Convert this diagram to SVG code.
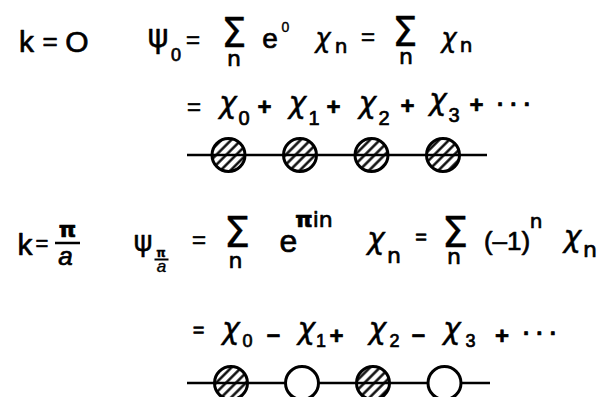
<svg xmlns="http://www.w3.org/2000/svg" width="600" height="397" viewBox="0 0 600 397">
<defs>
<pattern id="hatch" patternUnits="userSpaceOnUse" width="7" height="7" patternTransform="rotate(-45)">
<line x1="-1" y1="3.5" x2="8" y2="3.5" stroke="#000" stroke-width="2.4"/>
</pattern>
</defs>
<style>
text{font-family:"DejaVu Sans","Liberation Sans",sans-serif;fill:#000;text-anchor:middle;stroke:#000;stroke-width:0.7;stroke-linejoin:round}
.s{font-size:20px}
.c{font-size:30px;font-style:italic;stroke-width:0.4}
.op{font-size:24px;font-family:"Liberation Sans",sans-serif;font-weight:bold}
.ss{font-family:"Liberation Sans",sans-serif}
.it{font-style:italic}
.bd{font-weight:bold}
.sg{font-size:40px;stroke-width:0.3}
.hatched{fill:url(#hatch);stroke:#000;stroke-width:3}
.open{fill:#fff;stroke:#000;stroke-width:3}
.bar{stroke:#000;stroke-width:2.5}
.chain{stroke:#000;stroke-width:2.6;fill:none}
</style>
<rect width="600" height="397" fill="#fff"/>

<g id="eq-k0">
<text class="ss" x="26.5" y="52" style="font-size:30px">k</text>
<text class="ss" x="50" y="50" style="font-size:26px">=</text>
<text class="ss" x="77" y="52" style="font-size:30px">O</text>
<text x="158" y="47" style="font-size:32px;stroke-width:0.4">ψ</text>
<text class="ss" x="176" y="61" style="font-size:18px">0</text>
<text class="ss" x="193" y="48" style="font-size:24px">=</text>
<text class="sg" x="234" y="47">Σ</text>
<text x="234" y="66" style="font-size:22px">n</text>
<text class="ss" x="270" y="48" style="font-size:28px">e</text>
<text class="ss" x="285.5" y="32" style="font-size:14px;stroke-width:0.4">0</text>
<text x="323" y="47" class="c" style="font-size:26px">χ</text>
<text x="341" y="53" class="s">n</text>
<text class="ss" x="368" y="45" style="font-size:24px">=</text>
<text class="sg" x="405" y="46">Σ</text>
<text x="406" y="64" style="font-size:22px">n</text>
<text x="449" y="47" class="c" style="font-size:26px">χ</text>
<text x="466" y="52" class="s">n</text>
</g>

<g id="eq-k0-expansion">
<text class="ss" x="194" y="115" style="font-size:24px">=</text>
<text x="228" y="113" class="c">χ</text>
<text class="ss" x="244" y="125" style="font-size:20px">0</text>
<text class="op" x="264.5" y="115">+</text>
<text x="297.5" y="113" class="c">χ</text>
<text class="ss" x="314" y="125" style="font-size:20px">1</text>
<text class="op" x="333.5" y="115">+</text>
<text x="367.5" y="113" class="c">χ</text>
<text class="ss" x="384" y="125" style="font-size:20px">2</text>
<text class="op" x="407.5" y="114">+</text>
<text x="438" y="110" class="c">χ</text>
<text class="ss" x="454" y="122" style="font-size:20px">3</text>
<text class="op" x="476.5" y="113">+</text>
<text class="ss bd" x="514" y="112" style="font-size:22px">· · ·</text>
</g>

<g id="eq-kpi">
<text class="ss" x="25" y="255" style="font-size:30px">k</text>
<text class="ss" x="42" y="251" style="font-size:22px">=</text>
<text class="bd" x="67.5" y="237" style="font-size:22px">π</text>
<line class="bar" x1="55" y1="243" x2="80" y2="243"/>
<text class="ss it" x="65.5" y="265" style="font-size:26px">a</text>
<text x="143" y="251" style="font-size:29px;stroke-width:0.4">ψ</text>
<text class="bd" x="161" y="257" style="font-size:12px;stroke-width:0.3">π</text>
<line class="bar" x1="154.5" y1="259.5" x2="168.5" y2="259.5" style="stroke-width:2"/>
<text class="ss it" x="161.5" y="272" style="font-size:17px;stroke-width:0.4">a</text>
<text class="ss" x="199" y="248" style="font-size:24px">=</text>
<text class="sg" x="237" y="247" style="font-size:42px">Σ</text>
<text x="235.5" y="268" style="font-size:22px">n</text>
<text class="ss" x="288.5" y="252" style="font-size:32px">e</text>
<text x="314" y="227" style="font-size:22px"><tspan class="bd">π</tspan>in</text>
<text x="376" y="249" class="c">χ</text>
<text x="394" y="263" style="font-size:22px">n</text>
<text class="ss" x="421" y="244" style="font-size:20px">=</text>
<text class="sg" x="455" y="247" style="font-size:42px">Σ</text>
<text x="454" y="264" style="font-size:22px">n</text>
<text class="ss" x="507" y="250" style="font-size:26px">(–1)</text>
<text x="536" y="228" class="s">n</text>
<text x="572.5" y="247" class="c">χ</text>
<text x="590" y="257" style="font-size:22px">n</text>
</g>

<g id="eq-kpi-expansion">
<text class="ss" x="198.5" y="337" style="font-size:20px">=</text>
<text x="231" y="339" class="c">χ</text>
<text class="ss" x="247.5" y="347" style="font-size:18px">0</text>
<text class="op" x="273.5" y="342">–</text>
<text x="306.5" y="339" class="c">χ</text>
<text class="ss" x="321" y="347" style="font-size:18px">1</text>
<text class="op" x="336.5" y="344">+</text>
<text x="377.5" y="339" class="c">χ</text>
<text class="ss" x="394.5" y="347" style="font-size:18px">2</text>
<text class="op" x="418.5" y="342">–</text>
<text x="452" y="339" class="c">χ</text>
<text class="ss" x="470.5" y="347" style="font-size:18px">3</text>
<text class="op" x="502" y="344">+</text>
<text class="ss bd" x="540" y="341" style="font-size:22px">· · ·</text>
</g>

<g id="connectors">
<line class="chain" x1="187" y1="155" x2="487" y2="155"/>
<line class="chain" x1="187" y1="383" x2="490" y2="383"/>
</g>

<g id="chain-k0">
<circle id="atom-k0-0" class="hatched" cx="228.5" cy="155" r="16.5"/>
<circle id="atom-k0-1" class="hatched" cx="300" cy="155" r="16.5"/>
<circle id="atom-k0-2" class="hatched" cx="371.5" cy="155" r="16.5"/>
<circle id="atom-k0-3" class="hatched" cx="443" cy="155" r="16.5"/>
</g>

<g id="chain-kpi">
<circle id="atom-kpi-0" class="hatched" cx="231" cy="383" r="16.5"/>
<circle id="atom-kpi-1" class="open" cx="302" cy="383" r="16.5"/>
<circle id="atom-kpi-2" class="hatched" cx="373" cy="383" r="16.5"/>
<circle id="atom-kpi-3" class="open" cx="444.5" cy="383" r="16.5"/>
</g>
</svg>
